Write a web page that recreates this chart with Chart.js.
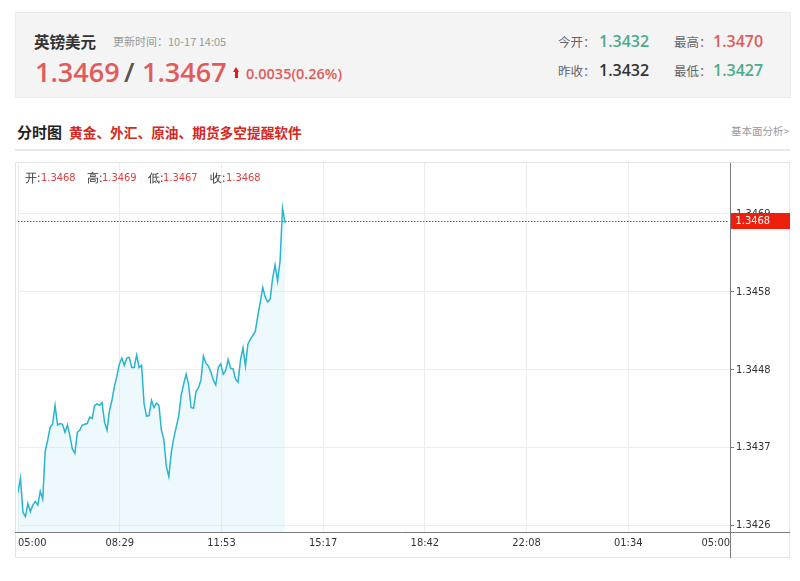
<!DOCTYPE html>
<html><head><meta charset="utf-8">
<script src="https://cdn.jsdelivr.net/npm/chart.js@4"></script>
<style>
html,body{margin:0;padding:0;background:#fff;}
body{width:800px;height:581px;position:relative;overflow:hidden;font-family:"Open Sans","Noto Sans CJK SC",sans-serif;}
.a{position:absolute;white-space:nowrap;}
.cjk{font-family:"Noto Sans CJK SC",sans-serif;}
.num{font-family:"Open Sans","Noto Sans CJK SC",sans-serif;}
#hdr{left:15px;top:12px;width:774px;height:84px;background:#f4f4f4;border:1px solid #ebebeb;}
.red{color:#e15b5b;}
.green{color:#4cab8b;}
.lbl{font-size:12.5px;color:#666;line-height:16px;}
.val{font-size:16px;font-weight:600;line-height:20px;}
#box{left:15px;top:162px;width:773px;height:394px;border:1px solid #e6e6e6;}
#c{position:absolute;left:15px;top:163px;}
.o{font-family:"DejaVu Sans Condensed","DejaVu Sans",sans-serif;font-size:11px;line-height:14px;top:171px;}
</style></head>
<body>
<div id="hdr" class="a"></div>
<div class="a cjk" style="left:34px;top:32px;font-size:15.5px;font-weight:bold;color:#333;line-height:18px;">英镑美元</div>
<div class="a cjk" style="left:113px;top:34px;font-size:11px;color:#999;line-height:14px;">更新时间：10-17 14:05</div>
<div class="a num red" style="left:35px;top:54px;font-size:27px;font-weight:600;line-height:36px;">1.3469</div>
<div class="a num" style="left:124px;top:54px;font-size:27px;font-weight:600;line-height:36px;color:#555;">/</div>
<div class="a num red" style="left:142px;top:54px;font-size:27px;font-weight:600;line-height:36px;">1.3467</div>
<div class="a" style="left:233px;top:67px;width:0;height:0;border-left:3.5px solid transparent;border-right:3.5px solid transparent;border-bottom:5px solid #e31b1b;"></div>
<div class="a" style="left:235px;top:72px;width:3px;height:6px;background:#e31b1b;"></div>
<div class="a num red" style="left:246px;top:64px;font-size:14.5px;font-weight:600;line-height:20px;">0.0035(0.26%)</div>

<div class="a cjk lbl" style="left:558px;top:34px;">今开：</div>
<div class="a num val green" style="left:599px;top:31px;">1.3432</div>
<div class="a cjk lbl" style="left:674px;top:34px;">最高：</div>
<div class="a num val red" style="left:713px;top:31px;">1.3470</div>
<div class="a cjk lbl" style="left:558px;top:63px;">昨收：</div>
<div class="a num val" style="left:599px;top:60px;color:#333;">1.3432</div>
<div class="a cjk lbl" style="left:674px;top:63px;">最低：</div>
<div class="a num val green" style="left:713px;top:60px;">1.3427</div>

<div class="a cjk" style="left:17px;top:123px;font-size:15px;font-weight:bold;color:#222;line-height:18px;">分时图</div>
<div class="a cjk" style="left:69px;top:123px;font-size:13.7px;font-weight:bold;color:#d6281f;line-height:18px;">黄金、外汇、原油、期货多空提醒软件</div>
<div class="a cjk" style="left:731px;top:124px;font-size:10.5px;color:#999;line-height:14px;">基本面分析&gt;</div>
<div class="a" style="left:15px;top:149px;width:775px;height:2px;background:#e8e8e8;"></div>

<div id="box" class="a"></div>
<canvas id="c" width="775" height="395"></canvas>
<div id="ohlc"></div>

<script>
// ---- data ----
const xTickLabels = ["05:00","08:29","11:53","15:17","18:42","22:08","01:34","05:00"];
const yTickValues = [1.34262, 1.34369, 1.34476, 1.34583, 1.3469];
const yTickLabels = ["1.3426","1.3437","1.3448","1.3458","1.3469"];
const ohlcNames = ["开","高","低","收"];
const ohlcValues = ["1.3468","1.3469","1.3467","1.3468"];
const lastPrice = 1.3468;
const stepMinutes = 5;
const prices = [
1.34307,1.34327,1.34280,1.34274,1.34292,1.34281,1.34290,1.34295,1.34290,1.34309,
1.34298,1.34364,1.34379,1.34397,1.34401,1.34427,1.34400,1.34402,1.34401,1.34390,
1.34400,1.34385,1.34367,1.34361,1.34390,1.34393,1.34400,1.34401,1.34402,1.34411,
1.34409,1.34427,1.34429,1.34427,1.34431,1.34404,1.34393,1.34420,1.34434,1.34453,
1.34467,1.34484,1.34492,1.34482,1.34492,1.34493,1.34479,1.34479,1.34496,1.34479,
1.34482,1.34429,1.34412,1.34413,1.34434,1.34424,1.34430,1.34427,1.34393,1.34380,
1.34343,1.34329,1.34362,1.34382,1.34397,1.34412,1.34441,1.34456,1.34470,1.34456,
1.34424,1.34423,1.34446,1.34451,1.34462,1.34495,1.34485,1.34481,1.34473,1.34462,
1.34455,1.34479,1.34484,1.34470,1.34475,1.34490,1.34478,1.34477,1.34463,1.34459,
1.34489,1.34506,1.34481,1.34511,1.34518,1.34523,1.34529,1.34550,1.34569,1.34589,
1.34576,1.34569,1.34573,1.34602,1.34620,1.34598,1.34625,1.34698,1.34678
];

// OHLC overlay text
const ohlcPos = [[25,41],[87,102],[148,163],[210,226]];
const ohlcDiv = document.getElementById('ohlc');
ohlcNames.forEach((n,i)=>{
  const a = document.createElement('div');
  a.className='a o cjk'; a.style.left=ohlcPos[i][0]+'px'; a.style.color='#333'; a.style.fontSize='11.5px';
  a.textContent = n + ':';
  const b = document.createElement('div');
  b.className='a o'; b.style.left=ohlcPos[i][1]+'px'; b.style.color='#e04040';
  b.textContent = ohlcValues[i];
  ohlcDiv.appendChild(a); ohlcDiv.appendChild(b);
});

const tickFont = {family:'"DejaVu Sans Condensed","DejaVu Sans",sans-serif', size:11};

const overlay = {
  id:'overlay',
  afterDraw(chart){
    const {ctx, chartArea:a, scales:{y}} = chart;
    ctx.save();
    ctx.strokeStyle = '#7a7a7a'; ctx.lineWidth = 1;
    const by = Math.round(a.bottom) + 0.5, rx = Math.round(a.right) + 0.5;
    ctx.beginPath(); ctx.moveTo(0, by); ctx.lineTo(chart.width, by); ctx.stroke();
    ctx.beginPath(); ctx.moveTo(rx, 0); ctx.lineTo(rx, chart.height); ctx.stroke();
    const py = Math.round(y.getPixelForValue(lastPrice));
    ctx.fillStyle = '#f0281c';
    for (let x = Math.round(a.left); x < a.right - 1; x += 3) ctx.fillRect(x, py, 1.5, 1);
    ctx.fillStyle = '#ee1f0c';
    ctx.fillRect(rx + 0.5, py - 8, chart.width - rx, 16);
    ctx.fillStyle = '#fff';
    ctx.font = '11px "DejaVu Sans Condensed","DejaVu Sans",sans-serif';
    ctx.textBaseline = 'middle'; ctx.textAlign = 'left';
    ctx.fillText(lastPrice.toFixed(4), rx + 5, py + 0.5);
    ctx.restore();
  }
};

new Chart(document.getElementById('c'), {
  type:'line',
  data:{datasets:[{
    data: prices.map((p,i)=>({x:i*stepMinutes, y:p})),
    borderColor:'#29b5ce', borderWidth:1.5, pointRadius:0, tension:0,
    fill:'start', backgroundColor:'rgba(200,236,248,0.3)'
  }]},
  options:{
    responsive:false, animation:false,
    layout:{padding:{left:3,top:0,right:0,bottom:0}},
    plugins:{legend:{display:false}, tooltip:{enabled:false}},
    scales:{
      x:{
        type:'linear', min:0, max:1440,
        afterBuildTicks:(s)=>{ s.ticks = xTickLabels.map((l,i)=>({value:i*1440/(xTickLabels.length-1)})); },
        afterFit:(s)=>{ s.height = 26; s.paddingLeft = 0; s.paddingRight = 0; },
        grid:{color:'#ececec', drawTicks:false},
        border:{display:false},
        ticks:{align:'inner', maxRotation:0, autoSkip:false, padding:5, color:'#333', font:tickFont,
          callback:(v,i)=>xTickLabels[i]}
      },
      y:{
        position:'right', min:1.34253, max:1.3476,
        afterBuildTicks:(s)=>{ s.ticks = yTickValues.map(v=>({value:v})); },
        afterFit:(s)=>{ s.width = 60; s.paddingTop = 0; s.paddingBottom = 0; },
        grid:{color:'#ececec', tickLength:4, tickColor:'#777'},
        border:{display:false},
        ticks:{padding:2, color:'#333', font:tickFont, callback:(v,i)=>yTickLabels[i]}
      }
    }
  },
  plugins:[overlay]
});
</script>
</body></html>
